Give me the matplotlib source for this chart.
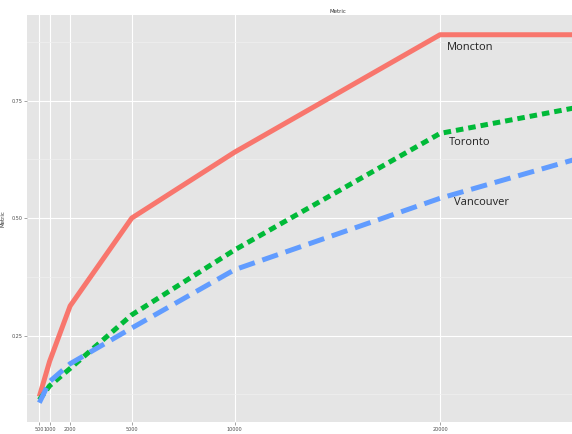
import matplotlib
matplotlib.use("Agg")
from matplotlib import pyplot as plt

# data
columns = [500, 1000, 2000, 5000, 10000, 20000, 30000]
moncton = [0.12, 0.195, 0.313, 0.50, 0.64, 0.89, 0.89]
toronto = [0.113, 0.143, 0.18, 0.294, 0.432, 0.68, 0.763]
vancouver = [0.107, 0.152, 0.19, 0.266, 0.39, 0.542, 0.668]
x_breaks = [500, 1000, 2000, 5000, 10000, 20000]
y_breaks = [0.25, 0.50, 0.75]

W, H = 572, 434
fig = plt.figure(figsize=(W / 100, H / 100), dpi=100)
# panel runs past the right edge, as in the cropped reference
ax = fig.add_axes([27 / W, (H - 422) / H, (649 - 27) / W, (422 - 15) / H])
ax.set_facecolor("#E5E5E5")
for s in ax.spines.values():
    s.set_visible(False)

ax.set_xlim(-100, 30170)
ax.set_ylim(0.066, 0.932)
ax.set_xticks(x_breaks)
ax.set_xticklabels([str(v) for v in x_breaks])
ax.set_yticks(y_breaks)
ax.set_yticklabels(["0.25", "0.50", "0.75"])
ax.set_yticks([0.125, 0.375, 0.625, 0.875], minor=True)
ax.grid(True, which="major", color="white", linewidth=0.8)
ax.grid(True, which="minor", axis="y", color="#F0F0F0", linewidth=0.5)
ax.set_axisbelow(True)
ax.tick_params(which="major", labelsize=3.5, labelcolor="#4D4D4D", color="#7F7F7F",
               length=2, width=0.5, pad=1.5)
ax.tick_params(which="minor", length=0)

lw = 3.6
ax.plot(columns, moncton, color="#F8766D", linewidth=lw, solid_capstyle="butt")
ax.plot(columns, toronto, color="#00BA38", linewidth=lw, dashes=(1.5, 1.0))
ax.plot(columns, vancouver, color="#619CFF", linewidth=lw, dashes=(3.3, 1.6))

lab_font = dict(fontsize=8, color="#222222", family="Open Sans")
ax.text(20350, 0.858, "Moncton", **lab_font)
ax.text(20450, 0.655, "Toronto", **lab_font)
ax.text(20700, 0.527, "Vancouver", **lab_font)

ax.set_title("Metric", fontsize=4, color="#333333", pad=1.5)
ax.set_ylabel("Metric", fontsize=4, color="#333333", labelpad=4)
ax.set_xlabel("Column", fontsize=4, color="#333333", labelpad=2)

fig.savefig("out.png", dpi=100)
